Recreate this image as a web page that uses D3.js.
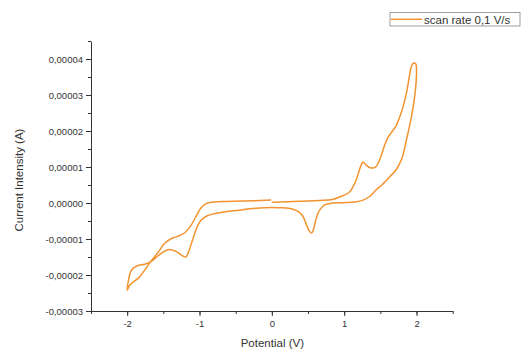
<!DOCTYPE html>
<html>
<head>
<meta charset="utf-8">
<script src="https://cdn.jsdelivr.net/npm/d3@7"></script>
<style>
  body { margin: 0; background: #fff; }
  svg { font-family: "Liberation Sans", Arial, sans-serif; }
  .axis path, .axis line { stroke: #333; }
  .axis text { fill: #333; font-size: 9.5px; }
</style>
</head>
<body>
<svg width="524" height="351"></svg>
<script>
// potential (V) and current (A) of the cyclic voltammogram, in scan order
const potential = [
  0.00, 0.38, 0.66, 0.84, 0.98, 1.07, 1.13, 1.17, 1.22, 1.26, 1.30, 1.36, 1.43, 1.49, 1.55, 1.60,
  1.66, 1.72, 1.77, 1.81, 1.86, 1.90, 1.93, 1.96, 1.99, 2.00, 1.98, 1.93, 1.86, 1.80, 1.72, 1.63,
  1.52, 1.44, 1.35, 1.26, 1.15, 1.00, 0.84, 0.73, 0.66, 0.61, 0.58, 0.55, 0.51, 0.47, 0.42, 0.35, 0.25,
  0.10, -0.10, -0.30, -0.45, -0.64, -0.80, -0.90, -0.98, -1.04, -1.10, -1.15, -1.19, -1.24, -1.32,
  -1.42, -1.50, -1.58, -1.68, -1.76, -1.84, -1.91, -1.95, -1.98, -2.00,
  -1.97, -1.92, -1.84, -1.76, -1.68, -1.58, -1.48, -1.38, -1.28, -1.20, -1.12, -1.05, -0.98, -0.92,
  -0.84, -0.70, -0.40, -0.01
];
const current = [
  0.2e-6, 0.5e-6, 0.7e-6, 1.0e-6, 2.0e-6, 3.0e-6, 4.8e-6, 6.6e-6, 9.8e-6, 11.4e-6, 10.6e-6, 9.8e-6, 9.9e-6, 12.0e-6, 15.5e-6, 18.0e-6,
  19.8e-6, 21.5e-6, 24.0e-6, 26.5e-6, 30.5e-6, 35.0e-6, 38.0e-6, 38.9e-6, 38.6e-6, 36.5e-6, 30.5e-6, 24.0e-6, 17.5e-6, 12.5e-6, 9.3e-6, 7.3e-6,
  5.0e-6, 3.6e-6, 1.8e-6, 0.8e-6, 0.3e-6, 0.1e-6, 0.0, -0.5e-6, -2.0e-6, -4.5e-6, -7.0e-6, -8.3e-6, -7.6e-6, -5.6e-6, -3.4e-6, -2.2e-6, -1.5e-6,
  -1.3e-6, -1.3e-6, -1.6e-6, -2.0e-6, -2.4e-6, -3.0e-6, -3.6e-6, -4.8e-6, -7.0e-6, -10.5e-6, -13.5e-6, -15.0e-6, -14.6e-6, -13.5e-6,
  -12.9e-6, -13.6e-6, -14.8e-6, -16.4e-6, -17.0e-6, -17.3e-6, -18.0e-6, -19.0e-6, -21.3e-6, -24.2e-6,
  -23.0e-6, -22.0e-6, -20.8e-6, -18.7e-6, -16.4e-6, -13.9e-6, -11.2e-6, -9.8e-6, -9.1e-6, -8.2e-6, -6.3e-6, -3.8e-6, -1.4e-6, -0.3e-6,
  0.2e-6, 0.4e-6, 0.55e-6, 0.8e-6
];
const xTicks = [-2, -1, 0, 1, 2];
const yTicks = [-0.00003, -0.00002, -0.00001, 0, 0.00001, 0.00002, 0.00003, 0.00004];
const seriesName = "scan rate 0,1 V/s";

const svg = d3.select("svg");
const mLeft = 91, mRight = 452.7, mTop = 41, mBottom = 311;
const lineColor = "#f29330";

const x = d3.scaleLinear().domain([-2.5, 2.5]).range([mLeft, mRight]);
const y = d3.scaleLinear().domain([-0.00003, 0.000045]).range([mBottom, mTop]);

const fmtY = v => (v < 0 ? "-" : "") + Math.abs(v).toFixed(5).replace(".", ",");

// minor ticks first, then major
svg.append("g").attr("class", "axis")
    .attr("transform", "translate(0," + mBottom + ")")
    .call(d3.axisBottom(x).tickValues(d3.range(-2.5, 2.51, 0.5)).tickSize(3).tickFormat(""))
    .call(g => g.select(".domain").remove());
svg.append("g").attr("class", "axis")
    .attr("transform", "translate(0," + mBottom + ")")
    .call(d3.axisBottom(x).tickValues(xTicks).tickSize(5).tickSizeOuter(0).tickPadding(4)
        .tickFormat(d => d));

svg.append("g").attr("class", "axis")
    .attr("transform", "translate(" + mLeft + ",0)")
    .call(d3.axisLeft(y).tickValues(d3.range(-0.00003, 0.0000451, 0.000005)).tickSize(3).tickFormat(""))
    .call(g => g.select(".domain").remove());
svg.append("g").attr("class", "axis")
    .attr("transform", "translate(" + mLeft + ",0)")
    .call(d3.axisLeft(y).tickValues(yTicks).tickSize(5).tickSizeOuter(0).tickPadding(3)
        .tickFormat(fmtY));

// axis titles
svg.append("text")
    .attr("x", (mLeft + mRight) / 2 + 0.5)
    .attr("y", 347)
    .attr("text-anchor", "middle")
    .attr("font-size", 11.5)
    .attr("fill", "#333")
    .text("Potential (V)");

svg.append("text")
    .attr("transform", "translate(23,180) rotate(-90)")
    .attr("text-anchor", "middle")
    .attr("font-size", 11.5)
    .attr("fill", "#333")
    .text("Current Intensity (A)");

// the curve
const pts = potential.map((p, i) => [p, current[i]]);
svg.append("path")
    .datum(pts)
    .attr("fill", "none")
    .attr("stroke", lineColor)
    .attr("stroke-width", 1.5)
    .attr("d", d3.line()
        .x(d => x(d[0]))
        .y(d => y(d[1]))
        .curve(d3.curveCatmullRom.alpha(0.5)));

// legend
const legend = svg.append("g").attr("transform", "translate(390,12.5)");
legend.append("rect")
    .attr("width", 130).attr("height", 13.5)
    .attr("fill", "#fff").attr("stroke", "#888").attr("stroke-width", 0.8);
legend.append("line")
    .attr("x1", 1).attr("x2", 32).attr("y1", 6.8).attr("y2", 6.8)
    .attr("stroke", lineColor).attr("stroke-width", 1.5);
legend.append("text")
    .attr("x", 34).attr("y", 11)
    .attr("font-size", 11.5)
    .attr("fill", "#333")
    .text(seriesName);
</script>
</body>
</html>
